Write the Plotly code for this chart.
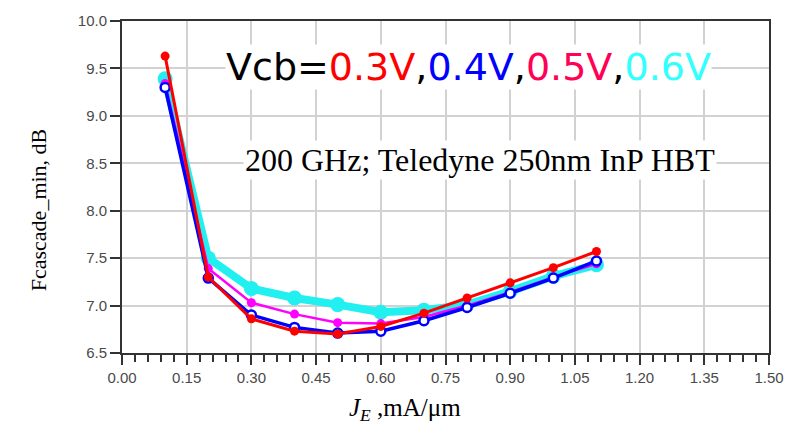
import plotly.graph_objects as go

# Emitter current density, mA/um
je = [0.1, 0.2, 0.3, 0.4, 0.5, 0.6, 0.7, 0.8, 0.9, 1.0, 1.1]

# Minimum cascade noise figure (dB) for each collector-base bias
f_03v = [9.63, 7.30, 6.86, 6.73, 6.70, 6.78, 6.92, 7.08, 7.24, 7.40, 7.57]
f_04v = [9.30, 7.29, 6.90, 6.77, 6.71, 6.73, 6.84, 6.98, 7.13, 7.29, 7.47]
f_05v = [9.34, 7.39, 7.03, 6.91, 6.82, 6.81, 6.88, 7.00, 7.14, 7.30, 7.44]
f_06v = [9.39, 7.50, 7.18, 7.08, 7.01, 6.93, 6.95, 7.01, 7.15, 7.31, 7.43]

x_ticks = [0.00, 0.15, 0.30, 0.45, 0.60, 0.75, 0.90, 1.05, 1.20, 1.35, 1.50]
y_ticks = [6.5, 7.0, 7.5, 8.0, 8.5, 9.0, 9.5, 10.0]

fig = go.Figure()

# drawn bottom-to-top: 0.6 V, 0.5 V, 0.4 V, 0.3 V
fig.add_trace(go.Scatter(
    x=je, y=f_06v, mode="lines+markers", name="0.6V",
    line=dict(color="#22f0f0", width=8),
    marker=dict(color="#22f0f0", size=15, symbol="circle"),
))
fig.add_trace(go.Scatter(
    x=je, y=f_05v, mode="lines+markers", name="0.5V",
    line=dict(color="#ff00ff", width=2.5),
    marker=dict(color="#ff00ff", size=9, symbol="circle"),
))
fig.add_trace(go.Scatter(
    x=je, y=f_04v, mode="lines+markers", name="0.4V",
    line=dict(color="#0000ff", width=3.5),
    marker=dict(color="white", size=9, symbol="circle",
                line=dict(color="#0000ff", width=2.5)),
))
fig.add_trace(go.Scatter(
    x=je, y=f_03v, mode="lines+markers", name="0.3V",
    line=dict(color="#ff0000", width=3),
    marker=dict(color="#ff0000", size=9, symbol="circle"),
))

vcb_text = ("<span style='color:black'>Vcb=</span>"
            "<span style='color:#ff0000'>0.3V</span>"
            "<span style='color:black'>,</span>"
            "<span style='color:#0000ff'>0.4V</span>"
            "<span style='color:black'>,</span>"
            "<span style='color:#ff0055'>0.5V</span>"
            "<span style='color:black'>,</span>"
            "<span style='color:#33ffff'>0.6V</span>")

fig.add_annotation(
    x=0.803, y=9.52, xref="x", yref="y", text=vcb_text, showarrow=False,
    font=dict(family="DejaVu Sans", size=38, color="black"),
    bgcolor="white", borderpad=0,
)
fig.add_annotation(
    x=0.83, y=8.53, xref="x", yref="y",
    text="200 GHz; Teledyne 250nm InP HBT", showarrow=False,
    font=dict(family="Liberation Serif", size=32, color="black"),
    bgcolor="white", borderpad=1,
)

# axis titles placed as paper-anchored labels
fig.add_annotation(
    x=0.438, y=-0.169, xref="paper", yref="paper",
    xanchor="center", yanchor="middle",
    text="<i>J<sub>E</sub></i> ,mA/μm", showarrow=False,
    font=dict(family="Liberation Serif", size=25, color="black"),
)
fig.add_annotation(
    x=0, xshift=-84, y=0.43, xref="paper", yref="paper",
    xanchor="center", yanchor="middle", textangle=-90,
    text="Fcascade_min, dB", showarrow=False,
    font=dict(family="Liberation Serif", size=22, color="black"),
)

axis_common = dict(
    showline=True, linecolor="#333333", linewidth=2, mirror=True,
    showgrid=True, gridcolor="#d2d2d2", gridwidth=2,
    ticks="outside", tickcolor="#333333", tickwidth=2, ticklen=10,
    tickfont=dict(family="Liberation Sans", size=15, color="#4a4a4a"),
    zeroline=False, ticklabeloverflow="allow",
)

fig.update_xaxes(
    range=[0, 1.5], tickmode="array", tickvals=x_ticks,
    ticktext=[f"{v:.2f}" for v in x_ticks],
    minor=dict(dtick=0.03, tick0=0, ticks="outside", ticklen=7,
               tickcolor="#333333", tickwidth=1.5, showgrid=False),
    **axis_common,
)
fig.update_yaxes(
    range=[6.5, 10.0], tickmode="array", tickvals=y_ticks,
    ticktext=[f"{v:.1f}" for v in y_ticks],
    **axis_common,
)

fig.update_layout(
    width=796, height=427,
    margin=dict(l=122, r=14, t=16, b=74),
    paper_bgcolor="white", plot_bgcolor="white",
    showlegend=False,
)

fig.write_html("out.html")
